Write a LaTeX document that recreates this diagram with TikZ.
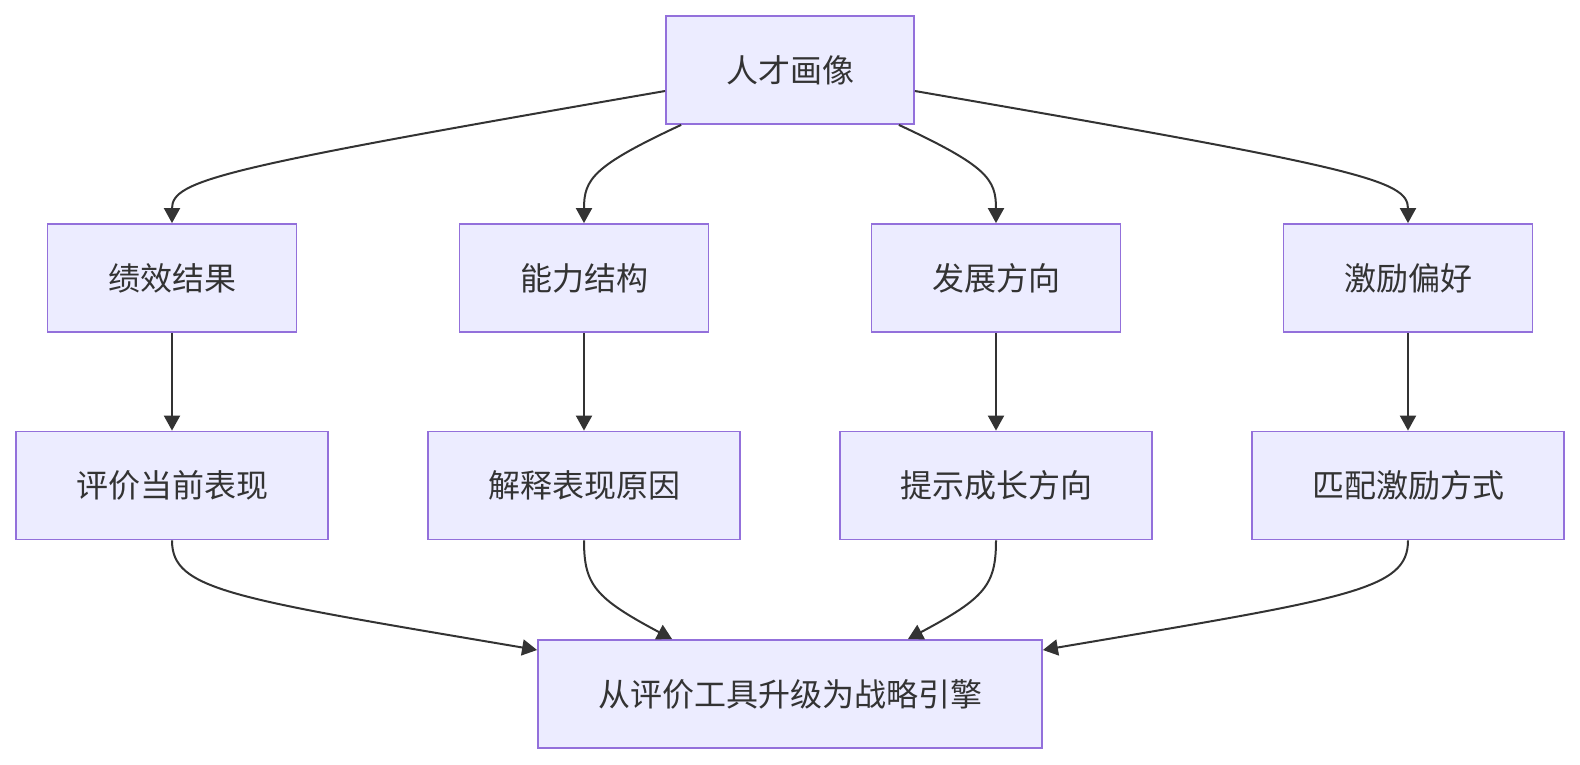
\documentclass[tikz,border=0pt]{standalone}
\usepackage{fontspec}
\newfontfamily\cjk{Noto Sans CJK SC}
\usetikzlibrary{arrows.meta}
\definecolor{nodefill}{HTML}{ECECFF}
\definecolor{nodeborder}{HTML}{9370DB}
\definecolor{ink}{HTML}{333333}
\tikzset{
  box/.style={rectangle, draw=nodeborder, fill=nodefill, line width=1.8pt,
    minimum height=108pt, inner sep=0pt, text=ink,
    font=\cjk\fontsize{32}{38}\selectfont},
  link/.style={draw=ink, line width=2pt, -{Triangle[length=15pt,width=16pt]}}
}
\begin{document}
\begin{tikzpicture}[x=1pt,y=-1pt]
\useasboundingbox (0,0) rectangle (1580,764);
\node[box, minimum width=248pt] (top) at (790,70) {人才画像};
\node[box, minimum width=249pt] (r1) at (172,278) {绩效结果};
\node[box, minimum width=249pt] (r2) at (584,278) {能力结构};
\node[box, minimum width=249pt] (r3) at (996,278) {发展方向};
\node[box, minimum width=249pt] (r4) at (1408,278) {激励偏好};
\node[box, minimum width=312pt] (s1) at (172,485.5) {评价当前表现};
\node[box, minimum width=312pt] (s2) at (584,485.5) {解释表现原因};
\node[box, minimum width=312pt] (s3) at (996,485.5) {提示成长方向};
\node[box, minimum width=312pt] (s4) at (1408,485.5) {匹配激励方式};
\node[box, minimum width=504pt] (bot) at (790,694) {从评价工具升级为战略引擎};

\draw[link] ([yshift=-21pt]top.west) .. controls (220,168) and (172,180) .. (r1.north);
\draw[link] ([xshift=16pt]top.south west) .. controls (593,166) and (584,179) .. (r2.north);
\draw[link] ([xshift=-16pt]top.south east) .. controls (987,166) and (996,179) .. (r3.north);
\draw[link] ([yshift=-21pt]top.east) .. controls (1360,168) and (1408,180) .. (r4.north);

\draw[link] (r1.south) -- (s1.north);
\draw[link] (r2.south) -- (s2.north);
\draw[link] (r3.south) -- (s3.north);
\draw[link] (r4.south) -- (s4.north);

\draw[link] (s1.south) .. controls (172,590) and (230,598) .. ([yshift=44pt]bot.west);
\draw[link] (s2.south) .. controls (584,585) and (595,598) .. ([xshift=135pt]bot.north west);
\draw[link] (s3.south) .. controls (996,585) and (985,598) .. ([xshift=-135pt]bot.north east);
\draw[link] (s4.south) .. controls (1408,590) and (1350,598) .. ([yshift=44pt]bot.east);
\end{tikzpicture}
\end{document}
